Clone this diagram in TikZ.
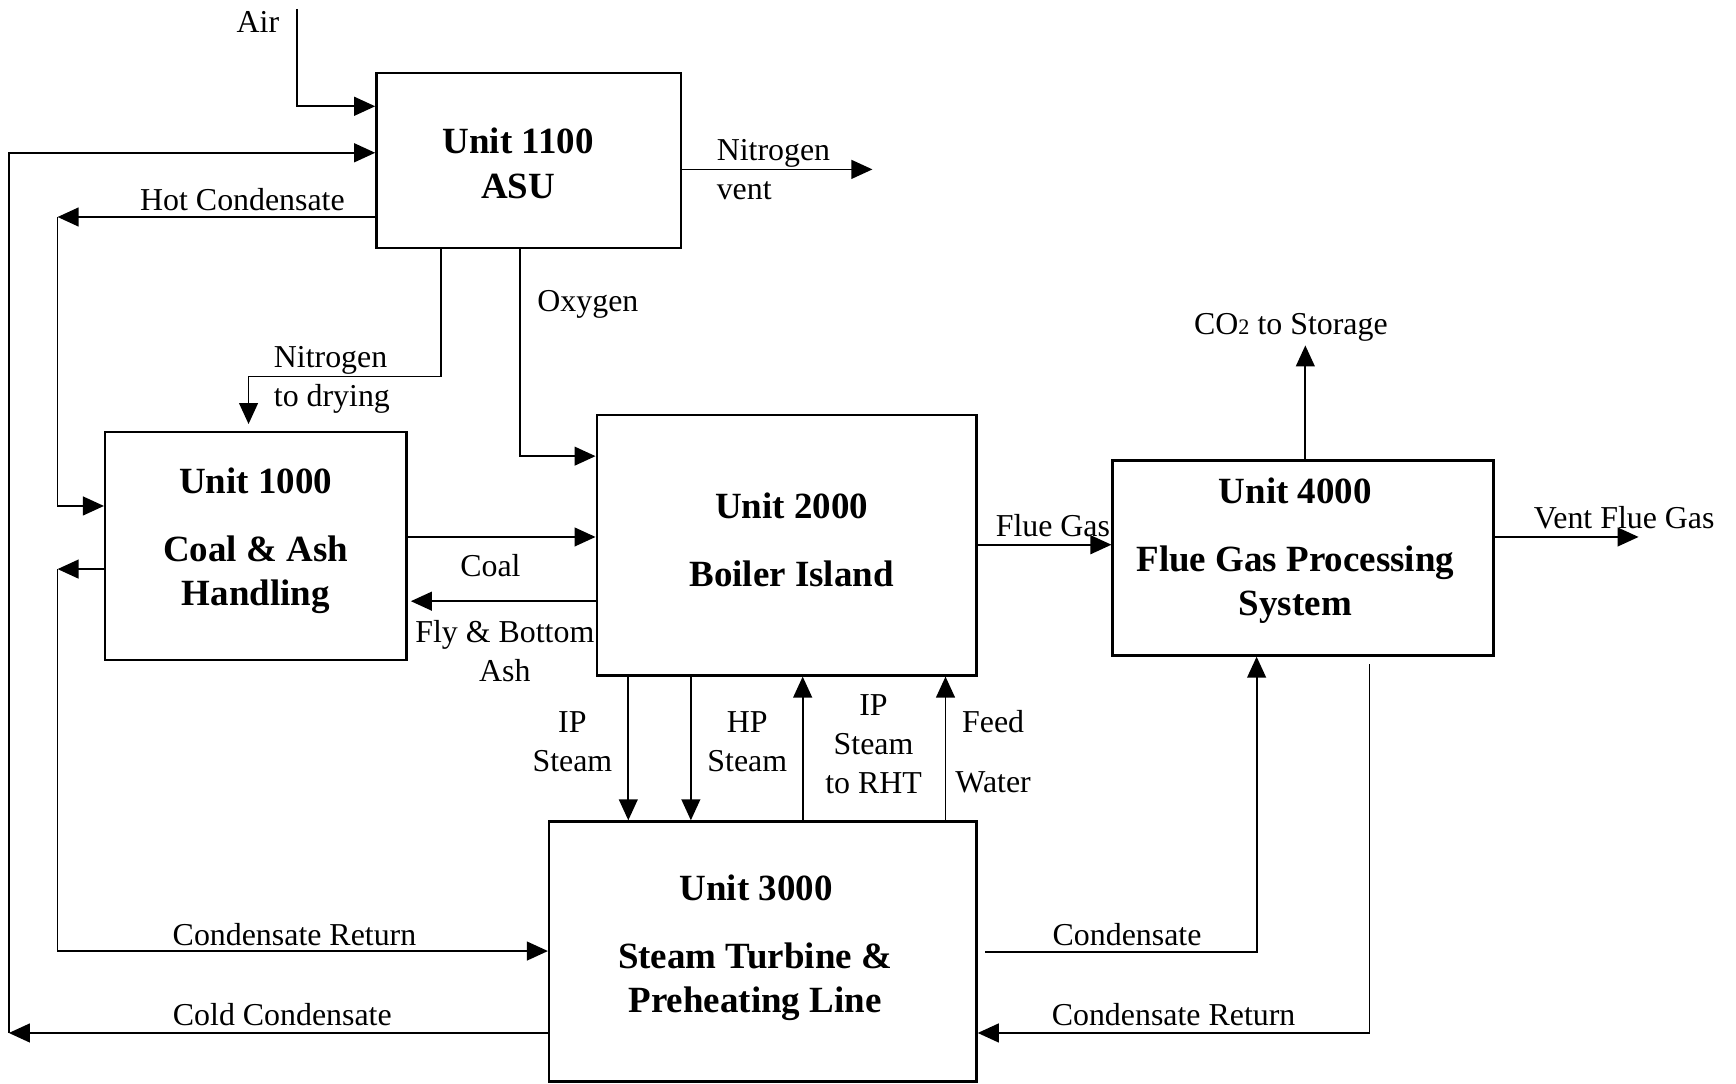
\documentclass[tikz,border=0pt]{standalone}
\usepackage{fontspec}
\setmainfont{Liberation Serif}
\usetikzlibrary{arrows.meta}
\begin{document}
\begin{tikzpicture}[x=0.5pt,y=-0.5pt,
  box/.style={draw,line width=1.1pt,inner sep=0pt},
  arr/.style={line width=0.8pt,-{Triangle[length=9.5pt,width=8.5pt]}},
  ln/.style={line width=0.8pt},
  lbl/.style={font=\fontsize{14.4}{17.5}\selectfont,inner sep=0pt,align=center},
  ttl/.style={font=\fontsize{16.7}{20}\selectfont\bfseries,inner sep=0pt,align=center}]
\useasboundingbox (0,0) rectangle (1568,979);

% boxes
\node[box,minimum width=137.5pt,minimum height=79pt] (asu) at (477.5,145) {};
\node[box,minimum width=136pt,minimum height=103pt] (u1000) at (231,493) {};
\node[box,minimum width=171.5pt,minimum height=117.5pt] (u2000) at (710.5,492.5) {};
\node[box,minimum width=172pt,minimum height=88pt] (u4000) at (1177,504) {};
\node[box,minimum width=193pt,minimum height=117.5pt] (u3000) at (689,859.5) {};

% titles
\node[ttl] (tasu) at (468,147.5) {Unit 1100\\ASU};
\node[ttl] (t1000a) at (231,434) {Unit 1000};
\node[ttl] (t1000b) at (231,519) {Coal \& Ash\\Handling};
\node[ttl] (t2000a) at (715,457) {Unit 2000};
\node[ttl] (t2000b) at (715,518) {Boiler Island};
\node[ttl] (t4000a) at (1170,443) {Unit 4000};
\node[ttl] (t4000b) at (1170,528) {Flue Gas Processing\\System};
\node[ttl] (t3000a) at (683,802) {Unit 3000};
\node[ttl] (t3000b) at (682,887) {Steam Turbine \&\\Preheating Line};

% free-end coordinates
\coordinate (airtop) at (268,8);
\coordinate (ccl) at (8,933);
\coordinate (hcl) at (52,196);
\coordinate (crl) at (52,514);
\coordinate (nv) at (788,153);
\coordinate (ndry) at (224.5,383);
\coordinate (co2) at (1179,312);
\coordinate (vfg) at (1480,485);
\coordinate (cs) at (890,860);
\coordinate (crr) at (1237,600);

% connectors
\draw[arr] (airtop) |- (asu.west |- {(0,96)});
\draw[arr] (u3000.west |- ccl) -- (ccl);
\draw[arr] (ccl) |- (asu.west |- {(0,138)});
\draw[arr] (asu.west |- hcl) -- (hcl);
\draw[arr] (hcl) |- (u1000.west |- {(0,457)});
\draw[arr] (u1000.west |- crl) -- (crl);
\draw[arr] (crl) |- (u3000.west |- {(0,859)});
\draw[arr] (asu.east |- nv) -- (nv);
\draw[arr] (asu.south -| {(398,0)}) |- (ndry |- {(0,340)}) -- (ndry);
\draw[arr] (asu.south -| {(470,0)}) |- (u2000.west |- {(0,412)});
\draw[arr] (u1000.east |- {(0,485)}) -- (u2000.west |- {(0,485)});
\draw[arr] (u2000.west |- {(0,543)}) -- ([xshift=1.5pt]u1000.east |- {(0,543)});
\draw[arr] (u2000.east |- {(0,492)}) -- (u4000.west |- {(0,492)});
\draw[arr] (u4000.north -| co2) -- (co2);
\draw[arr] (u4000.east |- vfg) -- (vfg);
\draw[arr] (u2000.south -| {(567.5,0)}) -- (u3000.north -| {(567.5,0)});
\draw[arr] (u2000.south -| {(624,0)}) -- (u3000.north -| {(624,0)});
\draw[arr] (u3000.north -| {(725,0)}) -- (u2000.south -| {(725,0)});
\draw[arr] (u3000.north -| {(854,0)}) -- (u2000.south -| {(854,0)});
\draw[arr] (cs) -| (u4000.south -| {(1135,0)});
\draw[arr] (crr) |- (u3000.east |- {(0,933)});

% labels
\node[lbl] (lair) at (233,20) {Air};
\node[lbl,anchor=west,align=left] (lnv) at (647,153.5) {Nitrogen\\vent};
\node[lbl] (lhc) at (219,180) {Hot Condensate};
\node[lbl,anchor=west] (lox) at (485,275) {Oxygen};
\node[lbl,anchor=west,align=left] (lnd) at (247,343) {Nitrogen\\to drying};
\node[lbl] (lco2) at (1166,296) {CO{\fontsize{10}{10}\selectfont 2} to Storage};
\node[lbl] (lfg) at (951,475) {Flue Gas};
\node[lbl,anchor=west] (lvfg) at (1385,468) {Vent Flue Gas};
\node[lbl] (lcoal) at (443,511) {Coal};
\node[lbl] (lash) at (456,588) {Fly \& Bottom\\Ash};
\node[lbl] (lips) at (517,670) {IP\\Steam};
\node[lbl] (lhps) at (675,670) {HP\\Steam};
\node[lbl] (lrht) at (789,672) {IP\\Steam\\to RHT};
\node[lbl] (lfw) at (897,679) {Feed\\[9.5pt]Water};
\node[lbl] (lcr1) at (266,844) {Condensate Return};
\node[lbl] (lcc) at (255,916) {Cold Condensate};
\node[lbl] (lcond) at (1018,844) {Condensate};
\node[lbl] (lcr2) at (1060,916) {Condensate Return};
\end{tikzpicture}
\end{document}
